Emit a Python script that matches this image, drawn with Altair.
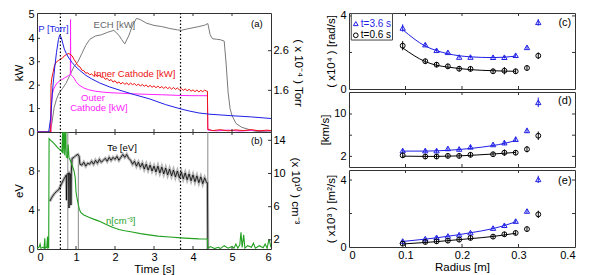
import altair as alt
import pandas as pd

# ---------------- Panel (a): power and pressure traces ----------------
ech_t = [0.0, 0.32, 0.38, 0.44, 0.50, 0.56, 0.65, 0.74, 0.85, 0.95, 1.05, 1.15, 1.25, 1.35, 1.50, 1.65, 1.80, 1.97, 2.10, 2.17,
         2.25, 2.35, 2.45, 2.55, 2.65, 2.80, 3.00, 3.20, 3.40, 3.60, 3.70, 3.85, 4.00, 4.15, 4.30, 4.38, 4.44, 4.50, 4.60, 4.70,
         4.80, 4.85, 4.90, 4.95, 5.00, 5.10, 5.25, 5.45, 5.60, 6.00]
ech_kw = [0.0, 0.0, 0.35, 1.05, 1.40, 1.65, 1.85, 2.07, 2.45, 2.80, 3.00, 3.35, 3.70, 3.95, 4.10, 4.15, 4.25, 4.34, 4.13, 3.95,
          3.76, 4.10, 4.55, 4.85, 4.80, 4.65, 4.55, 4.50, 4.42, 4.36, 4.34, 4.40, 4.45, 4.50, 4.56, 4.63, 4.15, 3.98, 3.96, 3.94,
          3.88, 2.90, 1.70, 1.00, 0.70, 0.37, 0.20, 0.10, 0.03, 0.0]

p_t = [0.0, 0.30, 0.35, 0.40, 0.45, 0.50, 0.55, 0.58, 0.62, 0.66, 0.70, 0.75, 0.80, 0.90, 1.00, 1.10, 1.25, 1.40, 1.60, 1.85,
       2.20, 2.50, 2.87, 3.30, 3.69, 3.90, 4.15, 4.41, 5.00, 5.50, 6.00]
p_torr = [0.55, 0.55, 0.90, 1.61, 2.14, 2.56, 2.88, 2.99, 2.94, 2.79, 2.64, 2.53, 2.44, 2.30, 2.19, 2.10, 1.98, 1.89, 1.79, 1.69,
          1.58, 1.49, 1.39, 1.24, 1.13, 1.08, 1.03, 1.00, 0.96, 0.93, 0.89]

inner_t_early = [0.0, 0.35, 0.36, 0.38, 0.42, 0.45, 0.50, 0.55, 0.60, 0.65, 0.70, 0.75, 0.80, 0.85, 0.90, 0.95]
inner_kw_early = [0.0, 0.0, 2.0, 2.3, 2.6, 2.85, 3.0, 3.05, 3.1, 3.15, 3.25, 3.3, 3.35, 3.32, 3.25, 3.1]
inner_kw_mid = [2.97, 2.83, 2.78, 2.64, 2.62, 2.51, 2.53, 2.44, 2.48, 2.40,
                2.45, 2.38, 2.43, 2.33, 2.36, 2.25, 2.29, 2.19, 2.24, 2.13,
                2.19, 2.08, 2.14, 2.05, 2.12, 2.03, 2.10, 2.01, 2.09, 2.02,
                2.07, 1.98, 2.05, 1.96, 2.03, 1.95, 2.01, 1.92, 1.99, 1.91,
                1.97, 1.89, 1.96, 1.88, 1.94, 1.86, 1.93, 1.85, 1.91, 1.83,
                1.90, 1.82, 1.88, 1.80, 1.86, 1.78, 1.84, 1.76, 1.82, 1.74,
                1.80, 1.72, 1.79, 1.71, 1.78, 1.72, 1.79, 1.74]
inner_t_late = [4.37, 4.38, 4.50, 4.70, 4.90, 5.10, 5.30, 5.50, 5.70, 5.90, 6.00]
inner_kw_late = [1.74, 0.12, 0.06, 0.10, 0.05, 0.09, 0.06, 0.10, 0.05, 0.08, 0.06]

outer_t = [0.0, 0.36, 0.37, 0.39, 0.42, 0.46, 0.52, 0.60, 0.70, 0.80, 0.85, 0.855, 0.86, 0.865, 0.90, 0.95, 1.00, 1.08, 1.20, 1.33,
           1.50, 1.70, 1.85, 2.10, 2.44, 2.80, 3.20, 3.69, 4.00, 4.15, 4.37, 4.38, 4.60, 4.90, 5.20, 5.50, 5.80, 6.00]
outer_kw = [0.0, 0.0, 1.2, 1.6, 1.8, 1.95, 2.1, 2.2, 2.3, 2.4, 2.45, 2.45, 4.8, 2.45, 2.4, 2.3, 2.15, 2.0, 1.88, 1.8,
            1.74, 1.70, 1.68, 1.66, 1.63, 1.61, 1.59, 1.56, 1.55, 1.55, 1.55, 0.08, 0.05, 0.08, 0.04, 0.07, 0.05, 0.06]

dotted_t = [0.6, 3.68]

a_text_t = [0.03, 1.45, 1.45, 1.13, 0.85, 5.49]
a_text_v = [4.39, 4.56, 2.49, 1.47, 1.04, 4.63]
a_text = ["P [Torr]", "ECH [kW]", "Inner Cathode [kW]", "Outer", "Cathode [kW]", "(a)"]
a_text_c = ["#1f1fe6", "#666666", "#ee1111", "#ff22ff", "#ff22ff", "black"]

# ---------------- Panel (b): Te and density ----------------
te_t_early = [0.33, 0.38, 0.45, 0.50, 0.56, 0.62, 0.68, 0.74, 0.75, 0.76, 0.77, 0.80, 0.81, 0.82, 0.83, 0.86, 0.87, 0.88, 0.90, 0.95,
              1.00, 1.05, 1.08, 1.10]
te_early = [4.9, 5.3, 5.7, 5.9, 6.1, 6.6, 7.1, 7.5, 7.6, 5.0, 7.6, 7.8, 7.8, 4.2, 7.8, 7.7, 4.5, 7.9, 9.3, 9.4,
            9.6, 9.7, 9.5, 8.7]
te_mid = [8.6, 8.9, 8.5, 8.8, 8.7, 9.0, 8.7, 9.1, 8.8, 9.2,
          8.9, 9.1, 9.3, 9.0, 9.4, 9.1, 9.4, 9.2, 9.5, 9.1,
          9.4, 9.7, 9.4, 9.7, 9.3, 9.1, 8.7, 9.0, 8.5, 8.9,
          8.4, 8.8, 8.2, 8.7, 8.1, 8.6, 8.0, 8.5, 7.9, 8.5,
          7.8, 8.4, 7.7, 8.3, 7.6, 8.2, 7.5, 8.1, 7.4, 8.0,
          7.3, 7.9, 7.2, 7.8, 7.1, 7.7, 7.0, 7.6, 6.9, 7.5,
          6.8, 7.4, 6.7, 7.3, 6.8]
te_t_late = [4.37, 4.38]
te_late = [6.8, 0.0]

drop_t = [0.79, 1.06, 4.38]
drop_hi = [12.0, 9.6, 12.0]

n_t = [0.0, 0.05, 0.08, 0.10, 0.15, 0.18, 0.20, 0.21, 0.25, 0.27, 0.28, 0.30, 0.31, 0.35, 0.40, 0.48, 0.55, 0.61, 0.64, 0.66,
       0.67, 0.70, 0.71, 0.74, 0.75, 0.78, 0.80, 0.82, 0.86, 0.90, 0.95, 0.98, 1.00, 1.03, 1.08, 1.12, 1.20, 1.33, 1.45, 1.59,
       1.75, 1.92, 2.10, 2.25, 2.44, 2.65, 2.87, 3.10, 3.40, 3.69, 3.90, 4.15, 4.37, 4.38, 4.45, 4.55, 4.65, 4.70, 4.80, 4.90,
       5.00, 5.05, 5.10, 5.15, 5.20, 5.23, 5.26, 5.30, 5.33, 5.40, 5.50, 5.55, 5.60, 5.70, 5.80, 5.85, 5.90, 5.95, 6.00]
n_v = [1.0, 1.1, 1.5, 1.0, 1.1, 1.0, 2.2, 1.0, 1.1, 2.4, 1.0, 1.05, 14.2, 14.0, 13.8, 13.4, 13.0, 12.8, 12.6, 15.5,
       12.4, 15.5, 12.2, 15.5, 12.0, 11.9, 13.5, 11.9, 11.5, 11.0, 10.3, 9.5, 7.8, 6.9, 5.8, 5.3, 5.0, 4.73, 4.5, 4.26,
       3.9, 3.54, 3.25, 3.1, 2.95, 2.75, 2.6, 2.45, 2.35, 2.24, 2.18, 2.12, 2.1, 1.0, 1.2, 0.95, 1.1, 0.95, 1.3, 1.0,
       1.2, 1.0, 1.5, 1.0, 1.4, 2.9, 1.1, 2.6, 1.0, 1.3, 1.1, 1.6, 1.0, 1.3, 1.05, 1.5, 1.0, 2.1, 1.1]

b_text_t = [1.8, 1.77, 5.49]
b_text_v = [10.4, 2.9, 11.1]
b_text = ["Te [eV]", "n[cm⁻³]", "(b)"]
b_text_c = ["black", "#22a022", "black"]

# ---------------- Panels (c)-(e): radial profiles ----------------
radius = [0.095, 0.135, 0.155, 0.175, 0.195, 0.215, 0.255, 0.275, 0.295, 0.315, 0.335]

c_blue = [3.34, 2.43, 2.12, 2.01, 1.75, 1.75, 1.74, 1.74, 1.85, 2.28, 3.65]
c_blue_err = [0.20, 0.10, 0.08, 0.08, 0.07, 0.07, 0.07, 0.07, 0.08, 0.10, 0.18]
c_black = [2.37, 1.52, 1.33, 1.24, 1.11, 1.10, 0.97, 1.00, 0.97, 1.15, 1.82]
c_black_err = [0.25, 0.15, 0.15, 0.15, 0.15, 0.15, 0.15, 0.20, 0.15, 0.15, 0.18]
c_blue_fit = [3.25, 2.35, 2.10, 1.93, 1.82, 1.76, 1.72, 1.74, 1.80]
c_black_fit = [2.25, 1.50, 1.30, 1.20, 1.12, 1.06, 1.00, 0.98, 0.97]

d_blue = [3.1, 3.1, 3.1, 3.5, 3.4, 3.8, 4.25, 4.6, 5.25, 6.9, 12.2]
d_blue_err = [0.4, 0.4, 0.4, 0.4, 0.4, 0.4, 0.4, 0.5, 0.5, 0.5, 0.9]
d_black = [2.2, 1.98, 1.98, 2.1, 2.1, 2.3, 2.4, 2.7, 2.7, 3.35, 5.9]
d_black_err = [0.5, 0.5, 0.5, 0.5, 0.5, 0.5, 0.5, 0.6, 0.5, 0.6, 0.8]
d_blue_fit = [3.0, 3.0, 3.05, 3.15, 3.3, 3.5, 4.05, 4.45, 5.0]
d_black_fit = [2.05, 2.0, 2.0, 2.05, 2.1, 2.2, 2.45, 2.6, 2.75]

e_blue = [0.36, 0.50, 0.58, 0.66, 0.74, 0.86, 1.13, 1.30, 1.55, 2.15, 4.04]
e_blue_err = [0.08, 0.07, 0.07, 0.07, 0.07, 0.07, 0.08, 0.08, 0.10, 0.12, 0.22]
e_black = [0.20, 0.30, 0.34, 0.38, 0.44, 0.54, 0.62, 0.76, 0.84, 1.07, 1.95]
e_black_err = [0.15, 0.15, 0.15, 0.15, 0.15, 0.15, 0.15, 0.15, 0.15, 0.15, 0.22]
e_blue_fit = [0.33, 0.47, 0.55, 0.64, 0.74, 0.85, 1.10, 1.28, 1.50]
e_black_fit = [0.18, 0.27, 0.32, 0.38, 0.44, 0.50, 0.63, 0.72, 0.82]

leg_r = [0.012, 0.012]
leg_v = [3.58, 2.94]
leg_label = ["t=3.6 s", "t=0.6 s"]
leg_color = ["#1f1fe6", "black"]
leg_shape = ["triangle-up", "circle"]

# tick positions (inward MATLAB-style ticks)
time_ticks = [1, 2, 3, 4, 5]
kw_ticks = [1, 2, 3, 4]
torr_ticks = [1.6, 2.6]
ev_ticks = [4, 8]
dens_ticks = [2, 6, 10, 14]
radius_ticks = [0.1, 0.2, 0.3]

# ---------------- styling ----------------
FONT = "Liberation Sans"
BLUE = "#1f1fe6"
RED = "#ee1111"
MAG = "#ff22ff"
GRAY = "#7a7a7a"
GREEN = "#22a022"
TICK = "#333333"
TL = 3


def frame(**kw):
    return pd.DataFrame(kw)


def ax(**kw):
    base = dict(ticks=False, domain=False, grid=False, labelPadding=3, titlePadding=3)
    base.update(kw)
    return alt.Axis(**base)


def xticks(xenc, field, vals, h):
    df = frame(**{field: vals})
    return [
        alt.Chart(df).mark_rule(color=TICK, strokeWidth=1).encode(x=xenc, y=alt.value(h), y2=alt.value(h - TL)),
        alt.Chart(df).mark_rule(color=TICK, strokeWidth=1).encode(x=xenc, y=alt.value(0), y2=alt.value(TL)),
    ]


def yticks(yenc, field, vals, w, sides=("left", "right")):
    df = frame(**{field: vals})
    out = []
    if "left" in sides:
        out.append(alt.Chart(df).mark_rule(color=TICK, strokeWidth=1).encode(y=yenc, x=alt.value(0), x2=alt.value(TL)))
    if "right" in sides:
        out.append(alt.Chart(df).mark_rule(color=TICK, strokeWidth=1).encode(y=yenc, x=alt.value(w - TL), x2=alt.value(w)))
    return out


xl_scale = alt.Scale(domain=[0, 6], nice=False, zero=False)


def xl(show):
    if show:
        return alt.X("t:Q", scale=xl_scale,
                     axis=ax(values=[0, 1, 2, 3, 4, 5, 6], title="Time [s]", labelPadding=2, titlePadding=1))
    return alt.X("t:Q", scale=xl_scale, axis=ax(values=[0, 1, 2, 3, 4, 5, 6], labels=False, title=None))


WL = 234
HA = 119
HB = 117

# ---- (a)
ya = alt.Y("v:Q", scale=alt.Scale(domain=[0, 5.08], nice=False), axis=ax(values=[0, 1, 2, 3, 4, 5], title="kW"))
yp = alt.Y("p:Q", scale=alt.Scale(domain=[0.55, 3.55], nice=False, zero=False),
           axis=ax(orient="right", values=[1.6, 2.6], format=".1f", title="( x 10⁻⁴ ) Torr", labelPadding=2, titlePadding=4))

inner_t = inner_t_early + [round(1.0 + 0.05 * i, 2) for i in range(len(inner_kw_mid))] + inner_t_late
inner_kw = inner_kw_early + inner_kw_mid + inner_kw_late

xa = xl(False)
ech_l = alt.Chart(frame(t=ech_t, v=ech_kw)).mark_line(color=GRAY, strokeWidth=1).encode(x=xa, y=ya)
outer_l = alt.Chart(frame(t=outer_t, v=outer_kw)).mark_line(color=MAG, strokeWidth=1).encode(x=xa, y=ya)
inner_l = alt.Chart(frame(t=inner_t, v=inner_kw)).mark_line(color=RED, strokeWidth=1).encode(x=xa, y=ya)
dots_a = alt.Chart(frame(t=dotted_t)).mark_rule(color="black", strokeDash=[1.5, 2], strokeWidth=1.2).encode(x=xa)
text_a = alt.Chart(frame(t=a_text_t, v=a_text_v, label=a_text, c=a_text_c)).mark_text(
    align="left", baseline="middle", fontSize=9.5, font=FONT).encode(
    x=xa, y=ya, text="label:N", color=alt.Color("c:N", scale=None))
p_l = alt.Chart(frame(t=p_t, p=p_torr)).mark_line(color=BLUE, strokeWidth=1).encode(x=xa, y=yp)

left_a = alt.layer(ech_l, outer_l, inner_l, dots_a, text_a,
                   *xticks(xa, "t", time_ticks, HA), *yticks(ya, "v", kw_ticks, WL, ("left",)))
right_a = alt.layer(p_l, *yticks(yp, "p", torr_ticks, WL, ("right",)))
panel_a = alt.layer(left_a, right_a).resolve_scale(y="independent").properties(width=WL, height=HA)

# ---- (b)
xb = xl(True)
yb = alt.Y("v:Q", scale=alt.Scale(domain=[0, 12.0], nice=False), axis=ax(values=[0, 4, 8], title="eV"))
yb2 = alt.Y2("hi:Q")
yn = alt.Y("n:Q", scale=alt.Scale(domain=[0.9, 15.0], nice=False, zero=False),
           axis=ax(orient="right", values=[2, 6, 10, 14], title="(x 10¹⁰ ) cm⁻³", labelPadding=2, titlePadding=4))

te_t = te_t_early + [round(1.15 + 0.05 * i, 2) for i in range(len(te_mid))] + te_t_late
te_v = te_early + te_mid + te_late
te_df = frame(t=te_t, v=te_v)

te_band = alt.Chart(te_df).mark_line(color="#b5b5b5", strokeWidth=3).encode(x=xb, y=yb)
te_line = alt.Chart(te_df).mark_line(color="black", strokeWidth=0.8).encode(x=xb, y=yb)
drops = alt.Chart(frame(t=drop_t, v=[0.0] * len(drop_t), hi=drop_hi)).mark_rule(color="#8a8a8a", strokeWidth=1).encode(
    x=xb, y=yb, y2=yb2)
dots_b = alt.Chart(frame(t=dotted_t)).mark_rule(color="black", strokeDash=[1.5, 2], strokeWidth=1.2).encode(x=xb)
text_b = alt.Chart(frame(t=b_text_t, v=b_text_v, label=b_text, c=b_text_c)).mark_text(
    align="left", baseline="middle", fontSize=9.5, font=FONT).encode(
    x=xb, y=yb, text="label:N", color=alt.Color("c:N", scale=None))
n_l = alt.Chart(frame(t=n_t, n=n_v)).mark_line(color=GREEN, strokeWidth=1.1, clip=True).encode(x=xb, y=yn)

left_b = alt.layer(drops, te_band, te_line, dots_b, text_b,
                   *xticks(xb, "t", time_ticks, HB), *yticks(yb, "v", ev_ticks, WL, ("left",)))
right_b = alt.layer(n_l, *yticks(yn, "n", dens_ticks, WL, ("right",)))
panel_b = alt.layer(left_b, right_b).resolve_scale(y="independent").properties(width=WL, height=HB)

left = alt.vconcat(panel_a, panel_b, spacing=0, bounds="flush")

# ---- (c)-(e)
xr_scale = alt.Scale(domain=[0, 0.4], nice=False, zero=False)
LABEL_EXPR = "datum.value == 0 ? '0' : format(datum.value, '.1f')"


def xr(show):
    if show:
        return alt.X("r:Q", scale=xr_scale, axis=ax(values=[0, 0.1, 0.2, 0.3, 0.4], labelExpr=LABEL_EXPR,
                                                    title="Radius [m]", labelPadding=2, titlePadding=1))
    return alt.X("r:Q", scale=xr_scale, axis=ax(values=[0, 0.1, 0.2, 0.3, 0.4], labels=False, title=None))


WR = 226


def profile(blue, blue_err, black, black_err, blue_fit, black_fit, ydom, yvals, ytick_vals, ytitle, tag, tag_v,
            show_x, h, legend=False):
    x = xr(show_x)
    y = alt.Y("v:Q", scale=alt.Scale(domain=ydom, nice=False), axis=ax(values=yvals, title=ytitle, labelPadding=3,
                                                                          titlePadding=3))
    bdf = frame(r=radius, v=blue, lo=[a - b for a, b in zip(blue, blue_err)], hi=[a + b for a, b in zip(blue, blue_err)])
    kdf = frame(r=radius, v=black, lo=[a - b for a, b in zip(black, black_err)], hi=[a + b for a, b in zip(black, black_err)])
    n = len(blue_fit)
    ylo = alt.Y("lo:Q", scale=alt.Scale(domain=ydom, nice=False))
    layers = [
        *xticks(x, "r", radius_ticks, h),
        *yticks(y, "v", ytick_vals, WR),
        alt.Chart(frame(r=radius[:n], v=blue_fit)).mark_line(color=BLUE, strokeWidth=1, interpolate="monotone").encode(x=x, y=y),
        alt.Chart(frame(r=radius[:n], v=black_fit)).mark_line(color="black", strokeWidth=1, interpolate="monotone").encode(x=x, y=y),
        alt.Chart(bdf).mark_rule(color=BLUE, strokeWidth=1).encode(x=x, y=ylo, y2="hi:Q"),
        alt.Chart(kdf).mark_rule(color="black", strokeWidth=1).encode(x=x, y=ylo, y2="hi:Q"),
        alt.Chart(bdf).mark_point(shape="triangle-up", filled=False, color=BLUE, size=28, strokeWidth=1, opacity=1).encode(x=x, y=y),
        alt.Chart(kdf).mark_point(shape="circle", filled=False, color="black", size=24, strokeWidth=1, opacity=1).encode(x=x, y=y),
        alt.Chart(frame(r=[0.382], v=[tag_v], label=[tag])).mark_text(fontSize=11, font=FONT, baseline="middle").encode(
            x=x, y=y, text="label:N"),
    ]
    if legend:
        layers.append(alt.Chart(frame(r=[0.004], r2=[0.077], v=[2.68], hi=[4.13])).mark_rect(
            fill="white", stroke="#444444", strokeWidth=1).encode(x=x, x2="r2:Q", y=y, y2="hi:Q"))
        ldf = frame(r=leg_r, v=leg_v, label=leg_label, c=leg_color, s=leg_shape)
        layers.append(alt.Chart(ldf).mark_point(filled=False, size=22, strokeWidth=1, opacity=1).encode(
            x=x, y=y, color=alt.Color("c:N", scale=None), shape=alt.Shape("s:N", scale=None)))
        layers.append(alt.Chart(ldf).mark_text(align="left", baseline="middle", fontSize=10, font=FONT, dx=5).encode(
            x=x, y=y, text="label:N", color=alt.Color("c:N", scale=None)))
    return alt.layer(*layers).properties(width=WR, height=h)


panel_c = profile(c_blue, c_blue_err, c_black, c_black_err, c_blue_fit, c_black_fit, [0, 4.16], [0, 2, 4], [2, 4],
                  "( x10⁴ ) [rad/s]", "(c)", 3.62, False, 76, legend=True)
panel_d = profile(d_blue, d_blue_err, d_black, d_black_err, d_blue_fit, d_black_fit, [0, 14.15], [2, 6, 10], [2, 6, 10],
                  "[km/s]", "(d)", 12.4, False, 75)
panel_e = profile(e_blue, e_blue_err, e_black, e_black_err, e_blue_fit, e_black_fit, [0, 4.6], [0, 2, 4], [2, 4],
                  "( x10³ ) [m²/s]", "(e)", 3.94, True, 77)

right = alt.vconcat(panel_c, panel_d, panel_e, spacing=3, bounds="flush")

chart = alt.hconcat(left, right, spacing=15).properties(
    padding={"left": 5, "top": 0, "right": 0, "bottom": 0}
).configure_view(
    stroke="#333333", strokeWidth=1
).configure_axis(
    labelFont=FONT, titleFont=FONT, labelFontSize=11, titleFontSize=11.5, titleFontWeight="normal",
    labelColor="black", titleColor="black"
)

chart.save("out.html", embed_options={"renderer": "svg", "actions": False})
